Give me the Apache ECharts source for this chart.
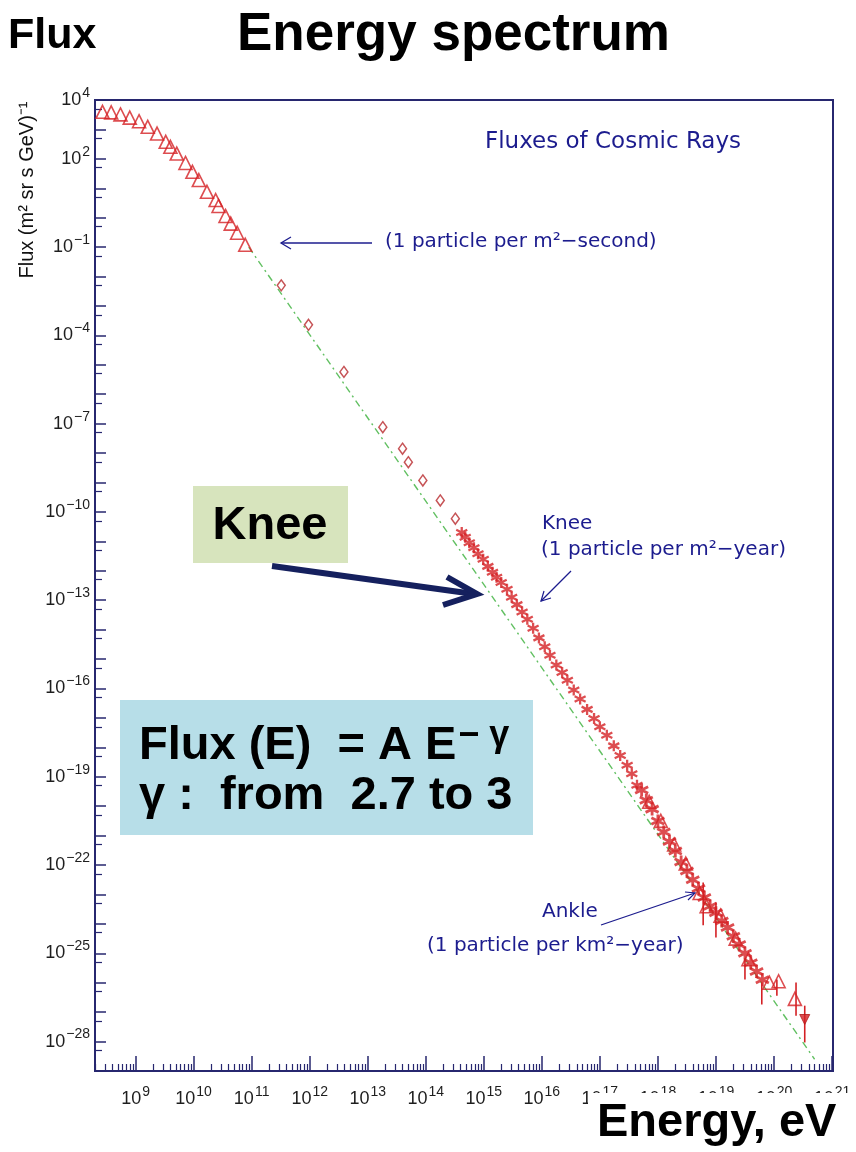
<!DOCTYPE html>
<html>
<head>
<meta charset="utf-8">
<title>Energy spectrum</title>
<script src="https://cdn.jsdelivr.net/npm/echarts@6/dist/echarts.min.js"></script>
<style>
  html, body { margin: 0; padding: 0; background: #fff; }
  #chart { width: 856px; height: 1152px; }
</style>
</head>
<body>
<div id="chart"></div>
<script>
// values, stored as log10(E / eV) and log10(flux)
// low energy points (open triangles)
const triLogE = [8.43, 8.58, 8.74, 8.90, 9.06, 9.21, 9.37, 9.52, 9.60, 9.71, 9.86, 9.98, 10.09, 10.23, 10.38, 10.43, 10.55, 10.64, 10.75, 10.89];
const triLogF = [3.60, 3.58, 3.51, 3.40, 3.28, 3.09, 2.86, 2.58, 2.41, 2.18, 1.86, 1.56, 1.28, 0.88, 0.60, 0.40, 0.06, -0.20, -0.51, -0.92];
// direct measurements (open diamonds)
const diaLogE = [11.51, 11.98, 12.59, 13.26, 13.60, 13.70, 13.95, 14.25, 14.51];
const diaLogF = [-2.30, -3.64, -5.24, -7.12, -7.85, -8.31, -8.93, -9.61, -10.23];
// air shower data around the knee (stars)
const kneeLogE = [14.62, 14.68, 14.75, 14.83, 14.90, 14.99, 15.07, 15.15, 15.22, 15.30, 15.40, 15.48, 15.57, 15.66, 15.75, 15.85, 15.95, 16.05, 16.14, 16.25, 16.35, 16.44, 16.55, 16.66, 16.78, 16.90, 17.00, 17.12, 17.24, 17.35, 17.47, 17.55, 17.64];
const kneeLogF = [-10.70, -10.86, -11.05, -11.22, -11.42, -11.61, -11.85, -12.05, -12.22, -12.40, -12.63, -12.90, -13.15, -13.40, -13.65, -13.95, -14.28, -14.58, -14.87, -15.20, -15.46, -15.72, -16.05, -16.36, -16.71, -17.02, -17.30, -17.59, -17.95, -18.28, -18.61, -18.90, -19.29];
// highest energies (stars + open triangles)
const tailStarLogE = [17.72, 17.80, 17.90, 18.00, 18.10, 18.20, 18.30, 18.40, 18.50, 18.60, 18.70, 18.80, 18.90, 19.00, 19.10, 19.20, 19.30, 19.40, 19.50, 19.60, 19.70, 19.80];
const tailStarLogF = [-19.45, -19.80, -20.10, -20.50, -20.88, -21.20, -21.52, -21.90, -22.20, -22.50, -22.80, -23.10, -23.40, -23.62, -23.90, -24.12, -24.42, -24.70, -25.00, -25.32, -25.62, -25.90];
const tailTriLogE = [17.85, 18.05, 18.28, 18.48, 18.72, 18.84, 19.08, 19.34, 19.56, 19.92, 20.08, 20.36];
const tailTriLogF = [-19.85, -20.50, -21.30, -21.95, -22.95, -23.40, -23.72, -24.50, -25.20, -26.00, -25.95, -26.55];
const downLogE = [20.53];
const downLogF = [-27.25];
// error bars
const errLogE = [18.78, 19.00, 19.50, 19.79, 20.05, 20.38, 20.53];
const errLogLo = [-24.05, -24.46, -25.89, -26.74, -26.44, -27.12, -28.03];
const errLogHi = [-22.59, -23.27, -25.21, -25.99, -25.89, -25.99, -26.78];
// power law guide line (green dashes)
const fitLogE = [10.95, 20.70];
const fitLogF = [-1.00, -28.60];

// tick labels
const xLabelExps = [9, 10, 11, 12, 13, 14, 15, 16, 17, 18, 19, 20, 21];
const yLabelExps = [4, 2, -1, -4, -7, -10, -13, -16, -19, -22, -25, -28];
const yLabelTexts = ['4', '2', '\u22121', '\u22124', '\u22127', '\u221210', '\u221213', '\u221216', '\u221219', '\u221222', '\u221225', '\u221228'];

const navy = '#27276f';
const ink = '#1c1c8e';
const red = '#d42024';

const pts = (xs, ys) => xs.map((x, i) => [10 ** x, 10 ** ys[i]]);

// tick positions of the log axes
const xMajor = xLabelExps.map(e => 10 ** e);
const xMinor = [];
for (let d = 8; d <= 20; d++) {
  for (let m = 2; m <= 9; m++) {
    const v = m * 10 ** d;
    if (v >= 2e8 && v < 1e21) xMinor.push(v);
  }
}
const yMajor = [];
const yMinor = [];
for (let e = -29; e <= 4; e++) {
  yMajor.push(10 ** e);
  if (e < 4) yMinor.push(5 * 10 ** e);
}

const chart = echarts.init(document.getElementById('chart'));

const labelRich = {
  b: { fontSize: 18, fontFamily: 'Liberation Sans', color: '#1e1e1e' },
  s: { fontSize: 14, fontFamily: 'Liberation Sans', color: '#1e1e1e', padding: [0, 0, 14, 1] }
};

const star = 'path://M5,0L5,10M0.67,2.5L9.33,7.5M0.67,7.5L9.33,2.5';
const openStyle = { color: 'rgba(255,255,255,0)', borderColor: red, borderWidth: 1.6 };

const option = {
  animation: false,
  grid: { left: 95, right: 23, top: 100, bottom: 81, show: true, borderColor: navy, borderWidth: 2 },
  xAxis: [
    {
      type: 'log', logBase: 10, min: 2e8, max: 1.04e21, position: 'bottom',
      axisLine: { show: true, lineStyle: { color: navy, width: 2 } },
      axisTick: { inside: true, length: 15, customValues: xMajor, lineStyle: { color: navy, width: 1.5 } },
      axisLabel: {
        customValues: xMajor, margin: 14,
        formatter: v => '{b|10}{s|' + Math.round(Math.log10(v)) + '}',
        rich: labelRich
      },
      splitLine: { show: false }
    },
    {
      type: 'log', logBase: 10, min: 2e8, max: 1.04e21, position: 'bottom',
      axisLine: { show: false },
      axisTick: { inside: true, length: 7, customValues: xMinor, lineStyle: { color: navy, width: 1.2 } },
      axisLabel: { show: false },
      splitLine: { show: false }
    }
  ],
  yAxis: [
    {
      type: 'log', logBase: 10, min: 1e-29, max: 1e4, position: 'left',
      axisLine: { show: true, lineStyle: { color: navy, width: 2 } },
      axisTick: { inside: true, length: 11, customValues: yMajor, lineStyle: { color: navy, width: 1.5 } },
      axisLabel: {
        customValues: yLabelExps.map(e => 10 ** e), margin: 5,
        formatter: v => {
          const i = yLabelExps.indexOf(Math.round(Math.log10(v)));
          return i < 0 ? '' : '{b|10}{s|' + yLabelTexts[i] + '}';
        },
        rich: labelRich
      },
      splitLine: { show: false }
    },
    {
      type: 'log', logBase: 10, min: 1e-29, max: 1e4, position: 'left',
      axisLine: { show: false },
      axisTick: { inside: true, length: 7, customValues: yMinor, lineStyle: { color: navy, width: 1.2 } },
      axisLabel: { show: false },
      splitLine: { show: false }
    }
  ],
  series: [
    {
      name: 'fit', type: 'line', showSymbol: false, silent: true, z: 1,
      data: pts(fitLogE, fitLogF),
      lineStyle: { color: '#62c062', width: 1.4, type: [7, 4, 2, 4] }
    },
    {
      name: 'low', type: 'scatter', symbol: 'triangle', symbolSize: 13, z: 3,
      data: pts(triLogE, triLogF), itemStyle: openStyle
    },
    {
      name: 'direct', type: 'scatter', symbol: 'diamond', symbolSize: [8, 11], z: 3,
      data: pts(diaLogE, diaLogF), itemStyle: { color: 'rgba(255,255,255,0)', borderColor: '#b8282c', borderWidth: 1.5 }
    },
    {
      name: 'knee', type: 'scatter', symbol: star, symbolSize: 11, z: 3,
      data: pts(kneeLogE, kneeLogF), itemStyle: { color: 'rgba(255,255,255,0)', borderColor: red, borderWidth: 2.3 }
    },
    {
      name: 'tailStar', type: 'scatter', symbol: star, symbolSize: 13, z: 3,
      data: pts(tailStarLogE, tailStarLogF), itemStyle: { color: 'rgba(255,255,255,0)', borderColor: red, borderWidth: 2.8 }
    },
    {
      name: 'tailTri', type: 'scatter', symbol: 'triangle', symbolSize: 13, z: 3,
      data: pts(tailTriLogE, tailTriLogF), itemStyle: openStyle
    },
    {
      name: 'down', type: 'scatter', symbol: 'triangle', symbolRotate: 180, symbolSize: 10, z: 3,
      data: pts(downLogE, downLogF), itemStyle: { color: red, borderColor: '#b01818', borderWidth: 1 }
    },
    {
      name: 'errors', type: 'custom', z: 2,
      encode: { x: 0, y: [1, 2] },
      data: errLogE.map((e, i) => [10 ** e, 10 ** errLogLo[i], 10 ** errLogHi[i]]),
      renderItem: (params, api) => {
        const lo = api.coord([api.value(0), api.value(1)]);
        const hi = api.coord([api.value(0), api.value(2)]);
        return { type: 'line', shape: { x1: lo[0], y1: lo[1], x2: hi[0], y2: hi[1] }, style: { stroke: red, lineWidth: 1.6 } };
      }
    }
  ],
  graphic: [
    // headings
    { type: 'text', x: 8, y: 36, z: 100, style: { text: 'Flux', font: 'bold 43px "Liberation Sans"', fill: '#000', verticalAlign: 'middle' } },
    { type: 'text', x: 237, y: 35, z: 100, style: { text: 'Energy spectrum', font: 'bold 53px "Liberation Sans"', fill: '#000', verticalAlign: 'middle' } },
    // y axis name
    { type: 'text', x: 27, y: 190, rotation: Math.PI / 2, z: 100, style: { text: 'Flux (m\u00b2 sr s GeV)\u207b\u00b9', font: '20px "Liberation Sans"', fill: '#111', align: 'center', verticalAlign: 'middle' } },
    // in-plot annotations
    { type: 'text', x: 485, y: 142, z: 100, style: { text: 'Fluxes of Cosmic Rays', font: '23px "DejaVu Sans"', fill: ink, verticalAlign: 'middle' } },
    { type: 'text', x: 385, y: 242, z: 100, style: { text: '(1 particle per m\u00b2\u2212second)', font: '20px "DejaVu Sans"', fill: ink, verticalAlign: 'middle' } },
    { type: 'text', x: 542, y: 524, z: 100, style: { text: 'Knee', font: '20px "DejaVu Sans"', fill: ink, verticalAlign: 'middle' } },
    { type: 'text', x: 541, y: 550, z: 100, style: { text: '(1 particle per m\u00b2\u2212year)', font: '20px "DejaVu Sans"', fill: ink, verticalAlign: 'middle' } },
    { type: 'text', x: 542, y: 912, z: 100, style: { text: 'Ankle', font: '20px "DejaVu Sans"', fill: ink, verticalAlign: 'middle' } },
    { type: 'text', x: 427, y: 946, z: 100, style: { text: '(1 particle per km\u00b2\u2212year)', font: '20px "DejaVu Sans"', fill: ink, verticalAlign: 'middle' } },
    // thin arrows
    { type: 'polyline', z: 100, shape: { points: [[372, 243], [281, 243]] }, style: { stroke: ink, lineWidth: 1.3, fill: null } },
    { type: 'polyline', z: 100, shape: { points: [[291, 237], [281, 243], [291, 249]] }, style: { stroke: ink, lineWidth: 1.3, fill: null } },
    { type: 'polyline', z: 100, shape: { points: [[571, 571], [541, 601]] }, style: { stroke: ink, lineWidth: 1.2, fill: null } },
    { type: 'polyline', z: 100, shape: { points: [[551, 598], [541, 601], [544, 591]] }, style: { stroke: ink, lineWidth: 1.2, fill: null } },
    { type: 'polyline', z: 100, shape: { points: [[601, 925], [695, 893]] }, style: { stroke: ink, lineWidth: 1.2, fill: null } },
    { type: 'polyline', z: 100, shape: { points: [[688, 900], [695, 893], [685, 892]] }, style: { stroke: ink, lineWidth: 1.2, fill: null } },
    // Knee call-out
    { type: 'rect', z: 100, shape: { x: 193, y: 486, width: 155, height: 77 }, style: { fill: '#d7e4bd' } },
    { type: 'text', x: 270, y: 526, z: 101, style: { text: 'Knee', font: 'bold 47px "Liberation Sans"', fill: '#000', align: 'center', verticalAlign: 'middle' } },
    { type: 'polyline', z: 100, shape: { points: [[272, 566], [474, 594]] }, style: { stroke: '#15205e', lineWidth: 6, fill: null } },
    { type: 'polyline', z: 100, shape: { points: [[447, 577], [477, 594], [443, 605]] }, style: { stroke: '#15205e', lineWidth: 6, fill: null, lineJoin: 'miter' } },
    // power law box
    { type: 'rect', z: 100, shape: { x: 120, y: 700, width: 413, height: 135 }, style: { fill: '#b7dee8' } },
    {
      type: 'text', x: 139, y: 746, z: 101,
      style: {
        text: '{m|Flux (E)  = A E}{s|\u2212 \u03b3}', verticalAlign: 'middle',
        rich: {
          m: { font: 'bold 47px "Liberation Sans"', fill: '#000' },
          s: { font: 'bold 36px "Liberation Sans"', fill: '#000', padding: [0, 0, 20, 2] }
        }
      }
    },
    { type: 'text', x: 139, y: 796, z: 101, style: { text: '\u03b3 :  from  2.7 to 3', font: 'bold 47px "Liberation Sans"', fill: '#000', verticalAlign: 'middle' } },
    // x axis title over the right-hand labels
    { type: 'rect', z: 100, shape: { x: 588, y: 1093, width: 268, height: 59 }, style: { fill: '#fff' } },
    { type: 'text', x: 597, y: 1123, z: 101, style: { text: 'Energy, eV', font: 'bold 47px "Liberation Sans"', fill: '#000', verticalAlign: 'middle' } }
  ]
};

chart.setOption(option);
</script>
</body>
</html>
